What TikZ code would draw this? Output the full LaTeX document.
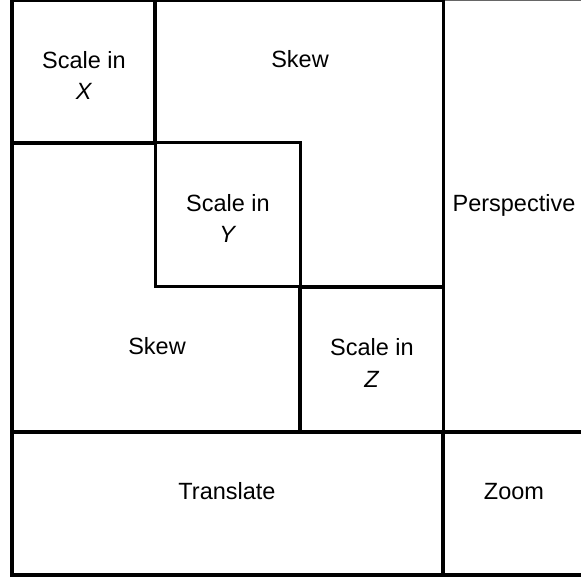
\documentclass[tikz,border=0pt]{standalone}
\usepackage{fontspec}
\setmainfont{Liberation Sans}
\begin{document}
\begin{tikzpicture}[x=1pt,y=-1pt,
  wall/.style={line width=3.3pt,line cap=rect,draw=black},
  lbl/.style={anchor=base,inner sep=0pt,font=\fontsize{23.5}{31.5}\selectfont,align=center}]
\useasboundingbox (0,0) rectangle (581,577);
% outer frame
\draw[line width=4pt] (12,0) -- (12,575);
\draw[wall] (12,575) -- (581,575);
\draw[line width=2pt] (12,1) -- (443,1);
\draw[line width=1pt,draw=black!60] (443,0.8) -- (581,0.8);
% internal lines
\draw[wall] (12,143) -- (155,143);
\draw[wall] (155,0) -- (155,143);
\draw[line width=3pt] (155,143) rectangle (300,287);
\draw[wall] (300,287) -- (443,287);
\draw[wall] (300,287) -- (300,432);
\draw[line width=3pt] (443,0) -- (443,432);
\draw[line width=3.5pt] (443,432) -- (443,575);
\draw[line width=3.5pt] (12,432) -- (581,432);
% labels (two-line nodes: base anchor = last line baseline)
\node[lbl] (sx) at (84,100) {Scale in\\\textit{X}};
\node[lbl] (skt) at (300,68) {Skew};
\node[lbl] (sy) at (228,243) {Scale in\\\textit{Y}};
\node[lbl] (per) at (514,212) {Perspective};
\node[lbl] (skb) at (157,355) {Skew};
\node[lbl] (sz) at (372,387) {Scale in\\\textit{Z}};
\node[lbl] (tr) at (227,499) {Translate};
\node[lbl] (zm) at (514,499) {Zoom};
\end{tikzpicture}
\end{document}
